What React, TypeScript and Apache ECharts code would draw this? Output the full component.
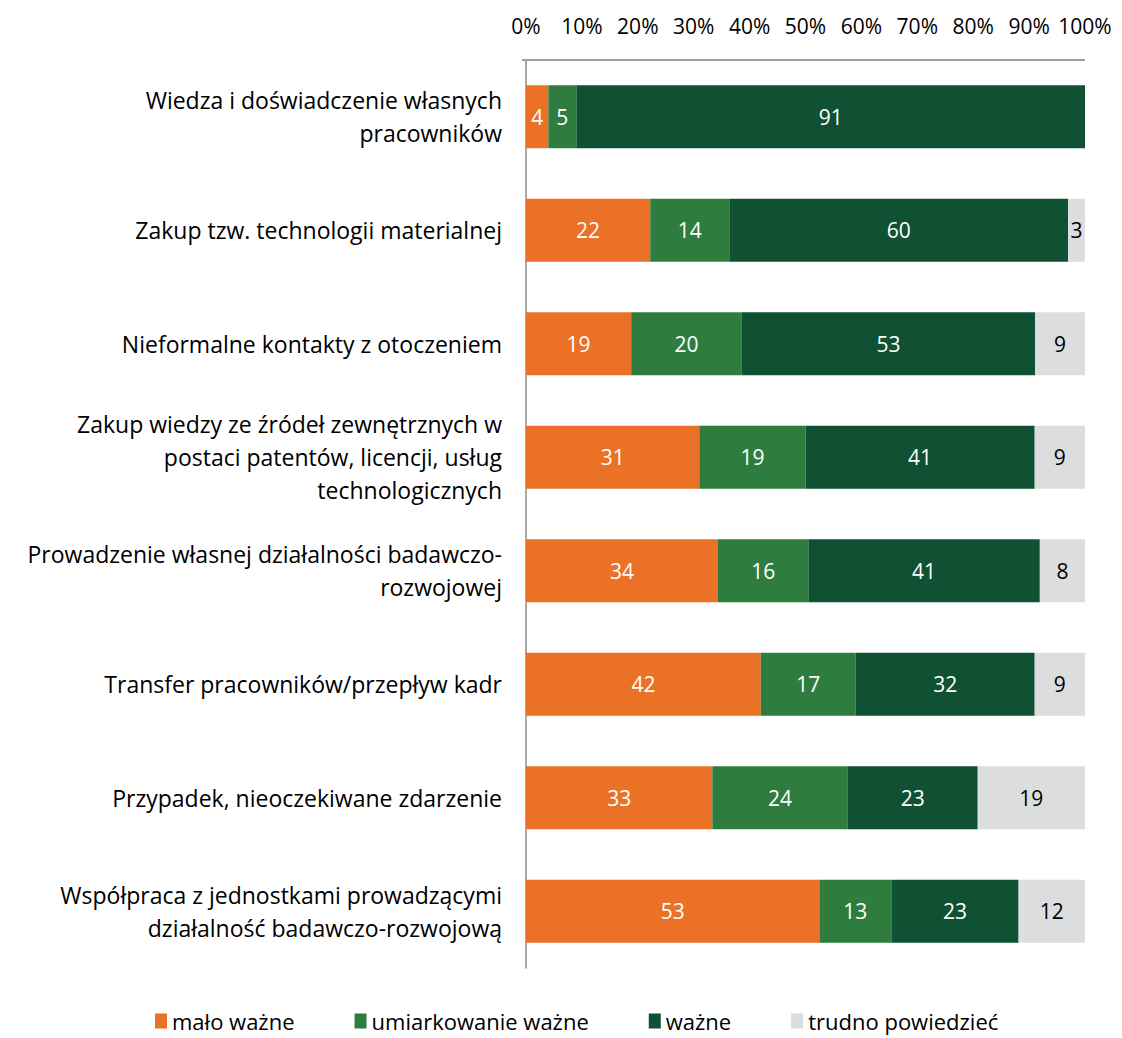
import React, { useEffect, useRef } from "react";
import * as echarts from "echarts";

const categories = [
  "Wiedza i doświadczenie własnych\npracowników",
  "Zakup tzw. technologii materialnej",
  "Nieformalne kontakty z otoczeniem",
  "Zakup wiedzy ze źródeł zewnętrznych w\npostaci patentów, licencji, usług\ntechnologicznych",
  "Prowadzenie własnej działalności badawczo-\nrozwojowej",
  "Transfer pracowników/przepływ kadr",
  "Przypadek, nieoczekiwane zdarzenie",
  "Współpraca z jednostkami prowadzącymi\ndziałalność badawczo-rozwojową",
];

const seriesNames = ["mało ważne", "umiarkowanie ważne", "ważne", "trudno powiedzieć"];
const maloWazne = [4, 22, 19, 31, 34, 42, 33, 53];
const umiarkowanieWazne = [5, 14, 20, 19, 16, 17, 24, 13];
const wazne = [91, 60, 53, 41, 41, 32, 23, 23];
const trudnoPowiedziec = [0, 3, 9, 9, 8, 9, 19, 12];
const colors = ["#EA7125", "#2E7D3F", "#0F5132", "#DCDDDF"];
const labelColors = ["#ffffff", "#ffffff", "#ffffff", "#000000"];

export default function App() {
  const ref = useRef<HTMLDivElement>(null);
  useEffect(() => {
    if (!ref.current) return;
    const chart = echarts.init(ref.current, null, { renderer: "svg" });
    const raw = [maloWazne, umiarkowanieWazne, wazne, trudnoPowiedziec];
    const sums = categories.map((_, i) => raw.reduce((s, arr) => s + arr[i], 0));
    const font = "'Open Sans', 'Noto Sans', sans-serif";
    chart.setOption({
      animation: false,
      textStyle: { fontFamily: font },
      grid: { left: 526, right: 37, top: 60, bottom: 70 },
      graphic: {
        elements: [
          {
            type: "rect",
            left: 522,
            top: 59,
            shape: { width: 563, height: 2 },
            style: { fill: "#A0A0A0" },
            silent: true,
            z: 100,
          },
        ],
      },
      legend: {
        bottom: 1,
        left: 150,
        itemWidth: 12,
        itemHeight: 15,
        itemGap: 60,
        icon: "rect",
        textStyle: { fontSize: 22, color: "#000", fontFamily: font },
        data: seriesNames,
      },
      xAxis: {
        type: "value",
        position: "top",
        min: 0,
        max: 100,
        interval: 10,
        axisLine: { show: false },
        axisTick: { show: false },
        splitLine: { show: false },
        axisLabel: {
          formatter: (v: number) => v + "%",
          fontSize: 21,
          color: "#000",
          margin: 24,
          fontFamily: font,
        },
      },
      yAxis: {
        type: "category",
        inverse: true,
        data: categories,
        axisLine: { show: true, lineStyle: { color: "#8C8C8C", width: 1.5 } },
        axisTick: { show: false },
        axisLabel: {
          fontSize: 23,
          color: "#000",
          margin: 24,
          align: "right",
          lineHeight: 33,
          fontFamily: font,
        },
      },
      series: raw.map((arr, si) => ({
        name: seriesNames[si],
        type: "bar",
        stack: "total",
        barWidth: 63,
        itemStyle: { color: colors[si] },
        label: {
          show: true,
          position: "inside",
          color: labelColors[si],
          fontSize: 21,
          fontFamily: font,
          formatter: (p: any) => (arr[p.dataIndex] > 0 ? String(arr[p.dataIndex]) : ""),
        },
        data: arr.map((v, i) => (v / sums[i]) * 100),
      })),
    });
    return () => chart.dispose();
  }, []);
  return (
    <div
      ref={ref}
      style={{ position: "fixed", left: 0, top: 0, width: 1122, height: 1038, background: "#fff" }}
    />
  );
}
